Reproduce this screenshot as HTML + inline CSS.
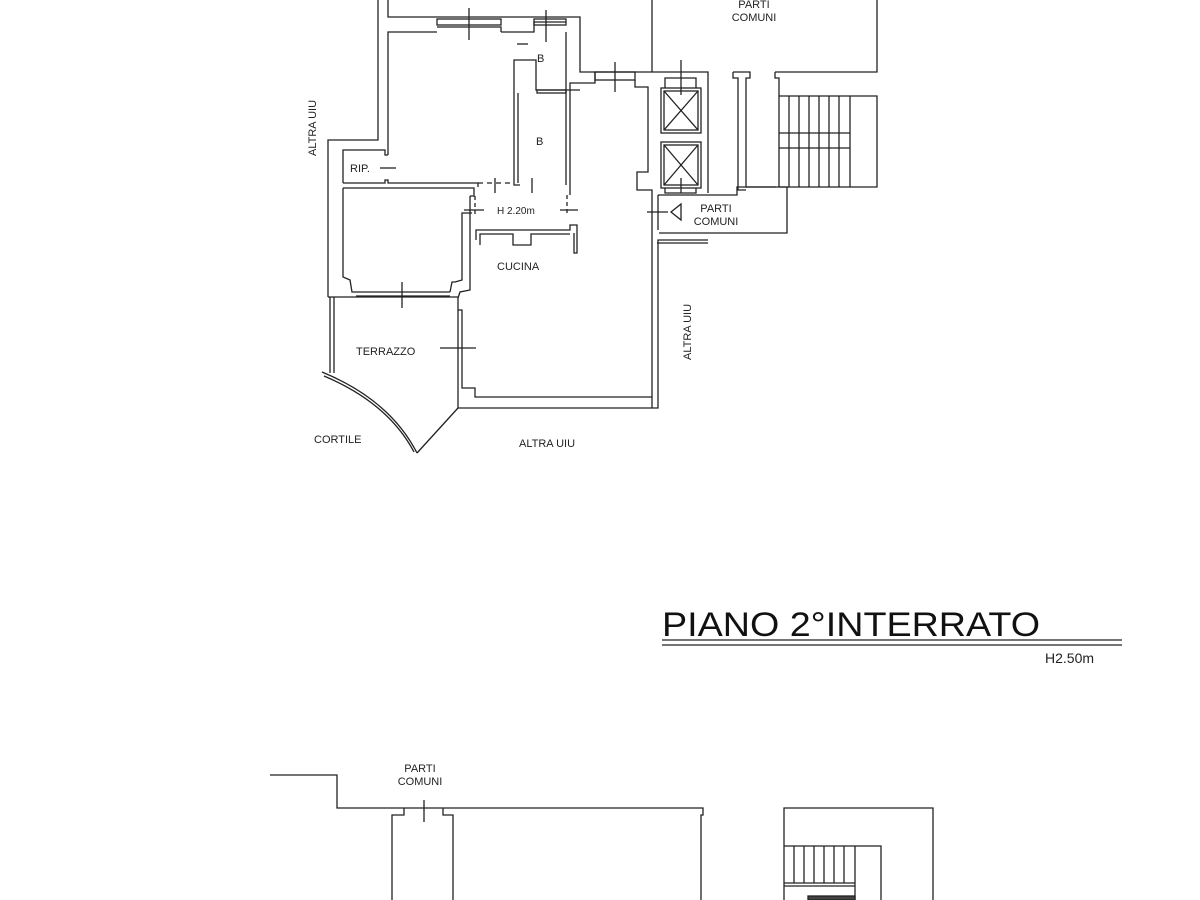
<!DOCTYPE html>
<html><head><meta charset="utf-8"><style>
html,body{margin:0;padding:0;background:#fff;}
svg{display:block;}
text{font-family:"Liberation Sans",Arial,sans-serif;fill:#222;}
</style></head><body>
<svg width="1200" height="900" viewBox="0 0 1200 900" xmlns="http://www.w3.org/2000/svg">
<g fill="none" stroke="#222" stroke-width="1.3">
<polyline points="378,0 378,140 328,140 328,297"/>
<polyline points="388,0 388,17 580,17 580,72 653,72"/>
<line x1="652" y1="0" x2="652" y2="72"/>
<polyline points="388,155 388,32 437,32"/>
<polyline points="501,32 501,27 437,27"/>
<rect x="437" y="19" width="64" height="6"/>
<polyline points="501,32 534,32 534,22 566,22"/>
<rect x="534" y="19" width="32" height="6"/>
<polyline points="566,32 566,90 580,90"/>
<line x1="517" y1="44" x2="528" y2="44"/>
<polyline points="514,88 514,60 536,60 536,90 566,90"/>
<rect x="537" y="90" width="29" height="3"/>
<polyline points="514,88 514,185 520,185"/>
<polyline points="518,93 518,183"/>
<polyline points="566,90 566,185"/>
<polyline points="570,88 570,195"/>
<polyline points="595,72 595,83 570,83 570,88"/>
<rect x="595" y="72" width="40" height="8"/>
<polyline points="635,80 635,87 648,87 648,172 637,172 637,190 652,190 652,408"/>
<polyline points="343,183 343,150 385,150 385,155 388,155"/>
<polyline points="343,183 385,183 385,180 388,180 388,183 478,183 478,187"/>
<polyline points="343,188 343,277 350,280 352,292 356,292"/>
<polyline points="343,188 474,188 474,196 470,196"/>
<polyline points="470,196 470,290 460,292 458,298 458,408"/>
<line x1="356" y1="292" x2="450" y2="292"/>
<line x1="356" y1="296" x2="450" y2="296"/>
<polyline points="450,292 452,282 455,282 462,280 462,213 472,213"/>
<polyline points="478,183 514,183" stroke-dasharray="5,4"/>
<polyline points="475,196 475,215" stroke-dasharray="4,3"/>
<polyline points="567,195 567,215" stroke-dasharray="4,3"/>
<polyline points="476,240 476,230 570,230 570,225 577,225 577,253 574,253 574,233"/>
<polyline points="480,245 480,234 513,234 513,245 531,245 531,234 570,234"/>
<polyline points="458,310 462,310 462,388 475,388 475,397 652,397"/>
<polyline points="458,408 658,408 658,240 708,240"/>
<polyline points="658,230 658,195"/>
<polyline points="330,297 330,373"/>
<polyline points="334,297 334,373"/>
<line x1="328" y1="297" x2="458" y2="297"/>
<path d="M322,372 Q390,400 417,453"/>
<path d="M324,376 Q388,403 414,452"/>
<line x1="417" y1="453" x2="458" y2="408"/>
<polyline points="653,72 708,72 708,193"/>
<rect x="661" y="88" width="40" height="45"/>
<rect x="664" y="91" width="34" height="39"/>
<line x1="664" y1="91" x2="698" y2="130"/><line x1="698" y1="91" x2="664" y2="130"/>
<rect x="661" y="142" width="40" height="46"/>
<rect x="664" y="145" width="34" height="40"/>
<line x1="664" y1="145" x2="698" y2="185"/><line x1="698" y1="145" x2="664" y2="185"/>
<polyline points="665,88 665,78 696,78 696,88"/>
<polyline points="665,188 665,193 696,193 696,188"/>
<polyline points="658,195 737,195 737,187 787,187 787,233 659,233"/>
<polyline points="657,243 708,243"/>
<polygon points="671,212 681,204 681,220"/>
<polyline points="733,72 750,72 750,78 746,78 746,187 776,187"/>
<polyline points="733,72 733,78 738,78 738,190 746,190"/>
<polyline points="775,72 877,72 877,0"/>
<polyline points="775,72 775,78 779,78 779,187"/>
<polyline points="779,96 877,96 877,187 779,187"/>
<line x1="779" y1="133" x2="850" y2="133"/><line x1="779" y1="148" x2="850" y2="148"/>
<line x1="850" y1="96" x2="850" y2="187"/>
<line x1="789" y1="96" x2="789" y2="187"/><line x1="799" y1="96" x2="799" y2="187"/>
<line x1="809" y1="96" x2="809" y2="187"/><line x1="819" y1="96" x2="819" y2="187"/>
<line x1="829" y1="96" x2="829" y2="187"/><line x1="839" y1="96" x2="839" y2="187"/>
<line x1="469" y1="8" x2="469" y2="40"/><line x1="546" y1="10" x2="546" y2="42"/>
<line x1="615" y1="62" x2="615" y2="92"/><line x1="681" y1="60" x2="681" y2="95"/>
<line x1="681" y1="178" x2="681" y2="193"/>
<line x1="495" y1="178" x2="495" y2="193"/><line x1="532" y1="178" x2="532" y2="193"/>
<line x1="464" y1="210" x2="484" y2="210"/><line x1="560" y1="210" x2="578" y2="210"/>
<line x1="647" y1="212" x2="668" y2="212"/>
<line x1="402" y1="282" x2="402" y2="308"/>
<line x1="440" y1="348" x2="476" y2="348"/>
<line x1="380" y1="168" x2="396" y2="168"/>
<line x1="662" y1="640" x2="1122" y2="640"/>
<line x1="662" y1="645" x2="1122" y2="645"/>
<polyline points="270,775 337,775 337,808 703,808 703,815 701,815 701,900"/>
<polyline points="404,808 404,815 392,815 392,900"/>
<polyline points="443,808 443,815 453,815 453,900"/>
<line x1="424" y1="800" x2="424" y2="822"/>
<polyline points="784,900 784,808 933,808 933,900"/>
<polyline points="784,846 881,846 881,900"/>
<line x1="784" y1="883" x2="855" y2="883"/>
<line x1="784" y1="886" x2="855" y2="886"/>
<line x1="855" y1="846" x2="855" y2="900"/>
<line x1="794" y1="846" x2="794" y2="883"/><line x1="804" y1="846" x2="804" y2="883"/>
<line x1="814" y1="846" x2="814" y2="883"/><line x1="824" y1="846" x2="824" y2="883"/>
<line x1="834" y1="846" x2="834" y2="883"/><line x1="844" y1="846" x2="844" y2="883"/>
<rect x="808" y="896" width="47" height="4" fill="#444"/>
</g>
<g font-size="11">
<text x="754" y="8" text-anchor="middle">PARTI</text>
<text x="754" y="21" text-anchor="middle">COMUNI</text>
<text x="537" y="62">B</text>
<text x="536" y="145">B</text>
<text x="350" y="172">RIP.</text>
<text x="497" y="214" font-size="10">H 2.20m</text>
<text x="497" y="270">CUCINA</text>
<text x="356" y="355">TERRAZZO</text>
<text x="314" y="443">CORTILE</text>
<text x="519" y="447">ALTRA UIU</text>
<text x="716" y="212" text-anchor="middle">PARTI</text>
<text x="716" y="225" text-anchor="middle">COMUNI</text>
<text transform="translate(316,156) rotate(-90)">ALTRA UIU</text>
<text transform="translate(691,360) rotate(-90)">ALTRA UIU</text>
<text x="420" y="772" text-anchor="middle">PARTI</text>
<text x="420" y="785" text-anchor="middle">COMUNI</text>
<text x="1045" y="663" font-size="14">H2.50m</text>
</g>
<text x="662" y="636" font-size="34" textLength="378" lengthAdjust="spacingAndGlyphs" style="fill:#111">PIANO 2°INTERRATO</text>
</svg>
</body></html>
